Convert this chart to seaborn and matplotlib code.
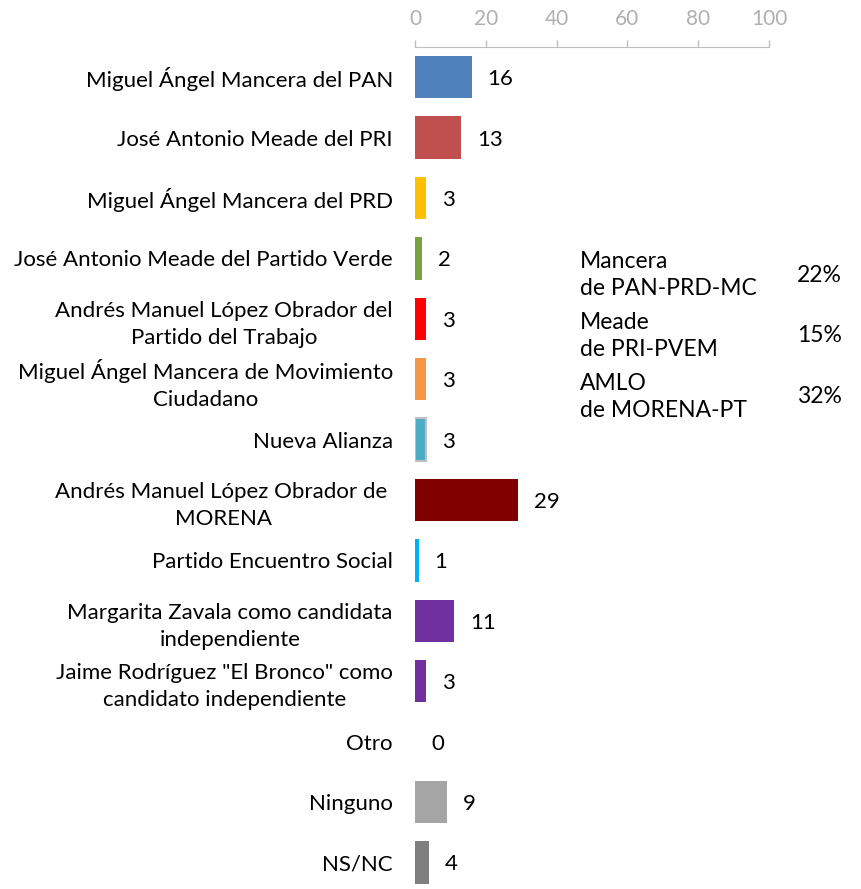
import matplotlib
matplotlib.use("Agg")
import matplotlib.pyplot as plt
import seaborn as sns
import pandas as pd

categories = [
    "Miguel Ángel Mancera del PAN",
    "José Antonio Meade del PRI",
    "Miguel Ángel Mancera del PRD",
    "José Antonio Meade del Partido Verde",
    "Andrés Manuel López Obrador del\nPartido del Trabajo",
    "Miguel Ángel Mancera de Movimiento\nCiudadano",
    "Nueva Alianza",
    "Andrés Manuel López Obrador de \nMORENA",
    "Partido Encuentro Social",
    "Margarita Zavala como candidata\nindependiente",
    "Jaime Rodríguez \"El Bronco\" como\ncandidato independiente",
    "Otro",
    "Ninguno",
    "NS/NC",
]
values = [16, 13, 3, 2, 3, 3, 3, 29, 1, 11, 3, 0, 9, 4]
colors = ["#4F81BD", "#C0504D", "#FFC000", "#77A33F", "#FF0000", "#F79646",
          "#4BACC6", "#800000", "#00B0F0", "#7030A0", "#7030A0", "#7F7F7F",
          "#A5A5A5", "#7F7F7F"]
xticks = [0, 20, 40, 60, 80, 100]
summary_labels = ["Mancera\nde PAN-PRD-MC", "Meade\nde PRI-PVEM", "AMLO\nde MORENA-PT"]
summary_values = ["22%", "15%", "32%"]

plt.rcParams['font.family'] = ['Lato', 'DejaVu Sans']

df = pd.DataFrame({"cat": categories, "val": values})

fig = plt.figure(figsize=(8.61, 8.89), dpi=100)
ax = fig.add_axes([415 / 861, 0, 354 / 861, (889 - 47) / 889])
sns.barplot(data=df, x="val", y="cat", hue="cat", palette=colors, legend=False,
            width=0.7, orient="h", ax=ax, saturation=1)
# outline on Nueva Alianza
ax.patches[6].set_edgecolor("#BFBFBF")
ax.patches[6].set_linewidth(1.5)

ax.set_xlim(0, 100)
ax.set_ylim(13.44, -0.5)
ax.xaxis.tick_top()
ax.set_xticks(xticks)
ax.tick_params(axis="x", colors="#BFBFBF", labelsize=15, length=5, width=1, pad=8,
               labelcolor="#B0B0B0")
ax.tick_params(axis="y", length=0, pad=16, labelsize=16)
for lbl in ax.get_yticklabels():
    lbl.set_multialignment("center")
    lbl.set_color("#000000")
    lbl.set_linespacing(1.45)
for s in ["right", "bottom", "left"]:
    ax.spines[s].set_visible(False)
ax.spines["top"].set_color("#BFBFBF")
ax.set_xlabel("")
ax.set_ylabel("")

for i, v in enumerate(values):
    ax.annotate(str(v), xy=(v, i), xytext=(16, -2), textcoords="offset pixels",
                ha="left", va="center", fontsize=16, color="#000000")

for k, (lab, val) in enumerate(zip(summary_labels, summary_values)):
    y = 275 + 61 * k
    fig.text(580 / 861, 1 - y / 889, lab, ha="left", va="center", fontsize=16.5,
             linespacing=1.4)
    fig.text(842 / 861, 1 - y / 889, val, ha="right", va="center", fontsize=16.5)

fig.savefig("out.png", dpi=100)
